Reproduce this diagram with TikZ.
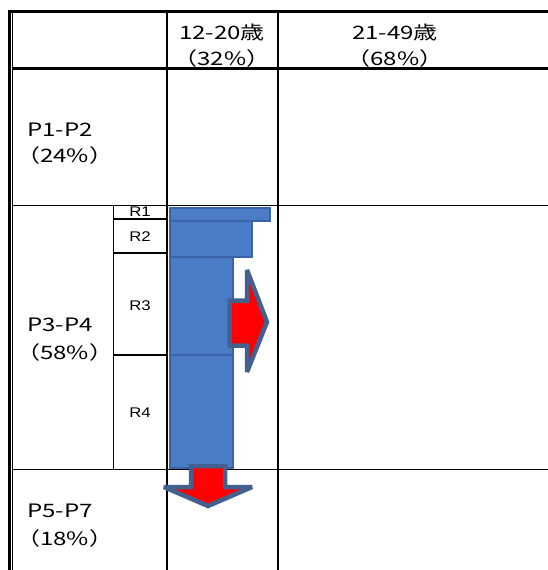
\documentclass[tikz,border=0pt]{standalone}
\usepackage{fontspec}
\newfontfamily\jp[FakeStretch=1.3]{Noto Sans CJK JP}
\newfontfamily\rfont[FakeStretch=1.2]{Liberation Sans}
\definecolor{barblue}{HTML}{4A7BC6}
\definecolor{baredge}{HTML}{3A64A8}
\definecolor{arrowedge}{HTML}{42618F}
\begin{document}
\begin{tikzpicture}[x=1pt,y=-1pt,
  thickln/.style={line width=3pt,black},
  thinln/.style={line width=1.6pt,black},
  lbl/.style={font=\jp\fontsize{18.5}{20}\selectfont,inner sep=0pt},
  rlbl/.style={font=\rfont\fontsize{14}{16}\selectfont,inner sep=0pt},
  barbox/.style={fill=barblue,draw=baredge,line width=1.4pt},
  blockarrow/.style={fill=red,draw=arrowedge,line width=4.5pt,line join=miter,miter limit=3}]
\useasboundingbox (0,0) rectangle (548,570);
\fill[white] (0,0) rectangle (548,570);
% grid
\draw[thickln] (9,10) -- (9,570);
\draw[line width=1pt] (12.5,12) -- (12.5,570);
\draw[thickln] (8,11) -- (548,11);
\draw[thickln] (12,68.5) -- (548,68.5);
\draw[thinln] (12,205.5) -- (548,205.5);
\draw[thinln] (12,469.5) -- (548,469.5);
\draw[line width=2.6pt] (167,11) -- (167,570);
\draw[thinln] (278,11) -- (278,570);
\draw[thinln] (113.5,205.5) -- (113.5,469.5);
\draw[thinln] (113.5,219) -- (167,219);
\draw[thinln] (113.5,253) -- (167,253);
\draw[thinln] (113.5,355) -- (167,355);
% header texts
\node[lbl] (h1a) at (222,32) {12-20歳};
\node[lbl] (h1b) at (222,58) {（32\%）};
\node[lbl] (h2a) at (395,32) {21-49歳};
\node[lbl] (h2b) at (395,58) {（68\%）};
% row texts
\node[lbl,anchor=west] (p12) at (27,130) {P1-P2};
\node[lbl,anchor=west] (p12b) at (16,155) {（24\%）};
\node[lbl,anchor=west] (p34) at (27,325) {P3-P4};
\node[lbl,anchor=west] (p34b) at (16,352) {（58\%）};
\node[lbl,anchor=west] (p57) at (27,511) {P5-P7};
\node[lbl,anchor=west] (p57b) at (16,538) {（18\%）};
% R labels
\node[rlbl] (r1) at (140,212) {R1};
\node[rlbl] (r2) at (140,237) {R2};
\node[rlbl] (r3) at (140,306) {R3};
\node[rlbl] (r4) at (140,413) {R4};
% bars
\draw[barbox] (170,208) rectangle (270,221);
\draw[barbox] (170,221) rectangle (252,257);
\draw[barbox] (170,257) rectangle (233,355);
\draw[barbox] (170,355) rectangle (233,468);
% arrows
\draw[blockarrow] (229.5,300.5) -- (247,300.5) -- (247,270) -- (267,322) -- (247,372) -- (247,345.5) -- (229.5,345.5) -- cycle;
\draw[blockarrow] (191,466) -- (225,466) -- (225,487) -- (252,487) -- (208,506) -- (164,487) -- (191,487) -- cycle;
\end{tikzpicture}
\end{document}
